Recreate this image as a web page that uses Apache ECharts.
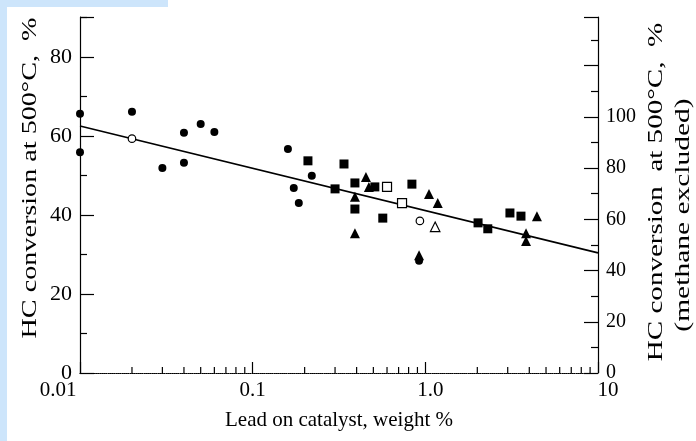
<!DOCTYPE html>
<html><head><meta charset="utf-8">
<script src="https://cdn.jsdelivr.net/npm/echarts@6/dist/echarts.min.js"></script>
<style>html,body{margin:0;padding:0;background:#fff}#c{width:696px;height:441px}</style>
</head><body><div id="c"></div>
<script>
// ---- data ----
const xTicks = [0.01, 0.1, 1, 10];
const xTickLabels = ['0.01', '0.1', '1.0', '10'];
const xMinorTicks = [0.02,0.03,0.04,0.05,0.06,0.07,0.08,0.09,0.2,0.3,0.4,0.5,0.6,0.7,0.8,0.9,2,3,4,5,6,7,8,9];
const filledCircles = [[0.01,65.6],[0.01,55.9],[0.02,66.1],[0.03,51.9],[0.04,60.8],[0.04,53.2],[0.05,63.0],[0.06,61.0],[0.16,56.7],[0.173,46.8],[0.185,43.0],[0.22,49.9],[0.92,28.4]];
const openCircles = [[0.02,59.3],[0.93,38.5]];
const filledSquares = [[0.209,53.7],[0.338,52.9],[0.30,46.6],[0.391,48.1],[0.391,41.5],[0.51,47.1],[0.567,39.2],[0.836,47.8],[2.02,38.0],[2.30,36.5],[3.09,40.5],[3.58,39.7]];
const openSquares = [[0.60,47.1],[0.733,43.0]];
const filledTriangles = [[0.453,49.6],[0.471,47.1],[0.391,44.6],[0.391,35.4],[1.05,45.3],[1.18,43.0],[4.43,39.7],[3.83,35.4],[3.83,33.4],[0.92,29.8]];
const openTriangles = [[1.14,37.0]];
const fitLine = [[0.01,62.5],[10,30.4]];
const leftTitle = 'HC conversion at 500°C,  %';
const rightTitle1 = 'HC conversion  at 500°C,  %';
const rightTitle2 = '(methane excluded)';
const xTitle = 'Lead on catalyst, weight %';

// ---- chart ----
const FONT = '"Liberation Serif", "DejaVu Serif", serif';
const chart = echarts.init(document.getElementById('c'));
const richKeys = ['a','b','c','d'];
function xLabel(v){
  const i = xTicks.findIndex(t => Math.abs(Math.log10(t) - Math.log10(v)) < 1e-6);
  if (i < 0) return '';
  return '{' + richKeys[i] + '|' + xTickLabels[i] + '}';
}
const rs = {fontFamily: FONT, fontSize: 21, color: '#000'};
const sym = (data, symbol, size, filled, z) => ({
  type: 'scatter', data, symbol, symbolSize: size, silent: true, z: z || 3,
  itemStyle: filled ? {color: '#000', opacity: 1} : {color: '#fff', borderColor: '#000', borderWidth: 1.2, opacity: 1}
});
chart.setOption({
  animation: false,
  backgroundColor: '#fff',
  grid: {left: 80, right: 98, top: 17, bottom: 68, containLabel: false, outerBoundsMode: 'none'},
  xAxis: [{
    type: 'log', logBase: 10, min: 0.01, max: 10,
    position: 'bottom',
    name: xTitle, nameLocation: 'middle', nameGap: 37,
    nameTextStyle: {fontFamily: FONT, fontSize: 21, color: '#000'},
    axisLine: {show: true, lineStyle: {color: '#000', width: 1, type: 'dotted'}},
    axisTick: {show: true, inside: true, length: 11, lineStyle: {color: '#000', width: 1.2}},
    minorTick: {show: false},
    splitLine: {show: false},
    axisLabel: {margin: 7, formatter: xLabel, fontFamily: FONT, fontSize: 21, color: '#000',
      showMinLabel: true, showMaxLabel: true,
      rich: {
        a: Object.assign({padding: [0, 44, 0, 0]}, rs),
        b: Object.assign({}, rs),
        c: Object.assign({padding: [0, 0, 0, 10]}, rs),
        d: Object.assign({padding: [0, 0, 0, 20]}, rs)
      }}
  }, {
    type: 'log', logBase: 10, min: 0.01, max: 10, position: 'top',
    axisLine: {show: true, lineStyle: {color: '#000', width: 1.2, type: 'dashed', opacity: 0.6}},
    axisTick: {show: false}, axisLabel: {show: false}, splitLine: {show: false}
  }],
  yAxis: [{
    type: 'value', min: 0, max: 90.1, interval: 20, position: 'left',
    axisLine: {show: true, lineStyle: {color: '#000', width: 1.2}},
    axisTick: {show: true, inside: true, length: 14, lineStyle: {color: '#000', width: 1.2}},
    minorTick: {show: true, splitNumber: 2, length: 7, lineStyle: {color: '#000', width: 1.2}},
    splitLine: {show: false},
    axisLabel: {margin: 8, fontFamily: FONT, fontSize: 22, color: '#000', showMaxLabel: false}
  }, {
    type: 'value', min: 0, max: 139, interval: 20, position: 'right',
    axisLine: {show: true, lineStyle: {color: '#000', width: 1.2}},
    axisTick: {show: true, inside: true, length: 14, lineStyle: {color: '#000', width: 1.2}},
    minorTick: {show: true, splitNumber: 2, length: 7, lineStyle: {color: '#000', width: 1.2}},
    splitLine: {show: false},
    axisLabel: {margin: 8, fontFamily: FONT, fontSize: 20, color: '#000',
      formatter: v => (v <= 100 ? String(v) : '')}
  }],
  series: [
    {type: 'line', data: fitLine, showSymbol: false, silent: true, z: 2,
     lineStyle: {color: '#000', width: 1.6}},
    {type: 'scatter', data: xMinorTicks.map(v => [v, 0]), symbol: 'rect', symbolSize: [1.2, 6],
     symbolOffset: [0, -3], itemStyle: {color: '#000', opacity: 1}, silent: true, z: 1},
    sym(filledCircles, 'circle', 8, true),
    sym(openCircles, 'circle', 7.5, false, 4),
    sym(filledSquares, 'rect', 9, true),
    sym(openSquares, 'rect', 9, false, 4),
    sym(filledTriangles, 'triangle', 10, true),
    sym(openTriangles, 'triangle', 9.5, false, 4)
  ],
  graphic: [
    {type: 'rect', left: 0, top: 0, shape: {width: 7, height: 441}, style: {fill: '#cde5fb'}, silent: true},
    {type: 'rect', left: 0, top: 0, shape: {width: 168, height: 7}, style: {fill: '#cde5fb'}, silent: true},
    {type: 'text', x: 30, y: 178, rotation: Math.PI / 2, scaleX: 1.28, silent: true,
     style: {text: leftTitle, font: '22px ' + FONT, fill: '#000', textAlign: 'center', textVerticalAlign: 'middle', align: 'center', verticalAlign: 'middle'}},
    {type: 'text', x: 656, y: 192, rotation: Math.PI / 2, scaleX: 1.32, silent: true,
     style: {text: rightTitle1, font: '22px ' + FONT, fill: '#000', textAlign: 'center', textVerticalAlign: 'middle', align: 'center', verticalAlign: 'middle'}},
    {type: 'text', x: 683, y: 215, rotation: Math.PI / 2, scaleX: 1.34, silent: true,
     style: {text: rightTitle2, font: '22px ' + FONT, fill: '#000', textAlign: 'center', textVerticalAlign: 'middle', align: 'center', verticalAlign: 'middle'}}
  ]
});
</script></body></html>
